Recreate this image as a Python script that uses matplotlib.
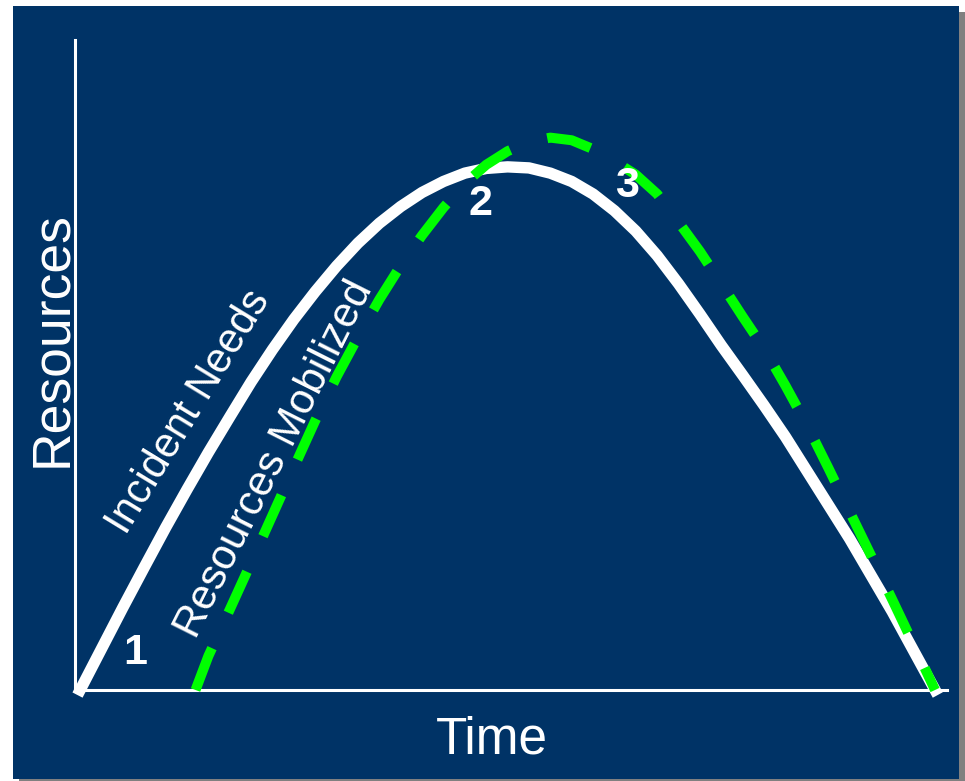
import matplotlib
matplotlib.use("Agg")
import matplotlib.pyplot as plt
from matplotlib.patches import Rectangle

plt.rcParams['font.family'] = ['Liberation Sans', 'DejaVu Sans']

# incident needs vs. resources mobilized over time (relative units)
needs_time = [0, 2.5, 5, 7.5, 10, 12.5, 15, 17.5, 20, 22.5, 25, 27.5, 30, 32.5,
              35, 37.5, 40, 42.5, 45, 47.5, 50, 52.5, 55, 57.5, 60, 62.5, 65,
              67.5, 70, 72.5, 75, 77.5, 80, 82.5, 85, 87.5, 90, 92.5, 95, 97.5, 100]
needs_level = [0, 7.9, 15.8, 23.5, 31.1, 38.4, 45.5, 52.3, 59.0, 65.2, 71.0,
               76.3, 81.2, 85.6, 89.4, 92.6, 95.3, 97.4, 99.0, 99.9, 100.2,
               100.0, 99.0, 97.4, 95.0, 91.8, 87.9, 83.2, 77.8, 72.0, 66.0,
               60.3, 54.5, 48.5, 42.0, 35.5, 29.0, 22.0, 15.0, 7.5, 0]

mob_time = [13.5, 15, 17.5, 20, 22.5, 25, 27.5, 30, 32.5, 35, 37.5, 40, 42.5,
            45, 47.5, 50, 52.5, 55, 57.5, 60, 62.5, 65, 67.5, 70, 72.5, 75,
            77.5, 80, 82.5, 85, 87.5, 90, 92.5, 95, 97.5, 100]
mob_level = [0, 6.5, 15.4, 24.4, 33.5, 42.6, 51.6, 60.0, 67.6, 74.8, 81.3,
             87.1, 92.4, 97.0, 100.6, 103.2, 105.0, 105.8, 105.3, 103.6, 101.3,
             98.7, 95.0, 89.6, 84.0, 77.8, 71.5, 65.4, 58.3, 50.8, 42.6, 34.2,
             25.8, 17.3, 8.7, 0]

phase_labels = ["1", "2", "3"]
phase_time = [6.5, 46.8, 64]
phase_level = [7, 93, 96.5]

W, H = 965, 781
fig = plt.figure(figsize=(W / 100, H / 100), dpi=100)
fig.patch.set_facecolor('white')

# slide panel with a drop shadow
fig.add_artist(Rectangle((19 / W, 0), 946 / W, 769 / H,
                         transform=fig.transFigure, facecolor='#808080',
                         edgecolor='none', zorder=0))
fig.add_artist(Rectangle((13 / W, 2 / H), 946 / W, 773 / H,
                         transform=fig.transFigure, facecolor='#003366',
                         edgecolor='none', zorder=0))

ax = fig.add_axes([75 / W, (H - 690) / H, (947 - 75) / W, (690 - 40) / H])
ax.set_facecolor('none')
ax.set_xlim(-0.6, 101.4)
ax.set_ylim(0, 124.5)
for side in ['top', 'right']:
    ax.spines[side].set_visible(False)
for side in ['left', 'bottom']:
    ax.spines[side].set_color('white')
    ax.spines[side].set_linewidth(2.2)
ax.set_xticks([])
ax.set_yticks([])

ax.plot(needs_time, needs_level, color='white', lw=8.2, clip_on=False,
        solid_joinstyle='round', zorder=3)
ax.plot(mob_time, mob_level, color='#00ff00', lw=7.2, clip_on=False,
        dashes=(4.5, 3.9), dash_capstyle='butt', zorder=4)

ax.text(5.4, 29.5, "Incident Needs", color='white', fontsize=30,
        rotation=58.6, rotation_mode='anchor', ha='left', va='baseline',
        zorder=5)
ax.text(13.6, 9.6, "Resources Mobilized", color='white', fontsize=30.5,
        rotation=63.3, rotation_mode='anchor', ha='left', va='baseline',
        zorder=5)

for lab, t, r in zip(phase_labels, phase_time, phase_level):
    ax.text(t, r, lab, color='white', fontsize=31, fontweight='bold',
            ha='center', va='center', zorder=6)

fig.text(492 / W, (H - 740) / H, "Time", color='white', fontsize=37,
         ha='center', va='center')
fig.text(52 / W, (H - 339) / H, "Resources", color='white', fontsize=38.5,
         rotation=90, ha='center', va='center')

fig.savefig("out.png", dpi=100, facecolor='white')
